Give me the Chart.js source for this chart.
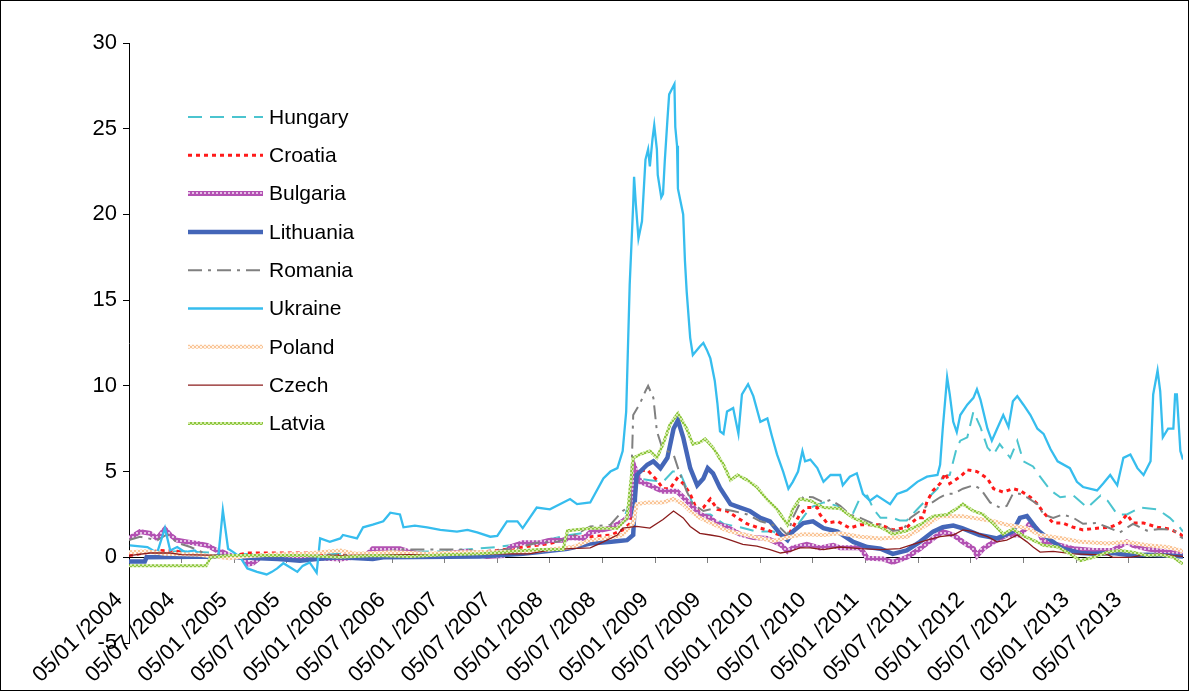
<!DOCTYPE html>
<html>
<head>
<meta charset="utf-8">
<script src="https://cdn.jsdelivr.net/npm/chart.js@4.4.1/dist/chart.umd.min.js"></script>
<style>
  html, body { margin: 0; padding: 0; background: #fff; }
  canvas { display: block; }
</style>
</head>
<body>
<canvas id="spreadChart" width="1189" height="691"></canvas>
<script>
// Datos: [meses desde 01/2004, valor]
const xTickLabels = ['05/01 /2004', '05/07 /2004', '05/01 /2005', '05/07 /2005', '05/01 /2006',
  '05/07 /2006', '05/01 /2007', '05/07 /2007', '05/01 /2008', '05/07 /2008', '05/01 /2009',
  '05/07 /2009', '05/01 /2010', '05/07 /2010', '05/01 /2011', '05/07 /2011', '05/01 /2012',
  '05/07 /2012', '05/01 /2013', '05/07 /2013'];

const yTicks = [-5, 0, 5, 10, 15, 20, 25, 30];

const hungary = [[0,0.3],[6,0.35],[12,0.2],[18,0.15],[24,0.2],[30,0.3],[36,0.35],[42,0.6],[46.5,0.9],
  [50.3,1.3],[54,1.6],[56.3,2.0],[57.9,4.6],[59.4,4.5],[60.9,4.4],[62.0,5.0],[62.8,5.0],[63.6,4.0],
  [64.3,3.1],[65.1,2.5],[66.3,2.5],[67.8,1.95],[69.7,1.75],[71.6,1.5],[73.5,1.5],[74.6,1.15],[75.7,1.5],
  [77.7,2.9],[79.2,3.2],[80.8,3.0],[81.1,2.8],[82.6,2.6],[83.4,3.5],[84.2,3.6],[84.9,2.8],[85.7,2.3],
  [87.1,2.3],[87.9,2.15],[88.7,2.15],[89.9,2.8],[91.0,3.4],[92.2,4.0],[92.8,4.7],[93.6,4.8],[94.4,6.4],
  [94.8,6.8],[95.6,7.0],[96.3,8.5],[97.1,7.6],[97.9,6.4],[98.6,6.0],[99.3,6.6],[99.9,6.2],[100.5,5.8],
  [101.3,6.8],[102.0,5.6],[103.1,5.3],[103.9,4.7],[105.1,3.9],[106.2,3.5],[107.7,3.6],[109.3,2.9],
  [110.8,3.6],[111.6,3.3],[112.7,2.5],[113.8,2.5],[115.3,2.9],[117.3,2.8],[118.7,2.3],[119.9,1.7],[120.2,1.5]];

const croatia = [[0,0.1],[3.5,0.4],[5.5,0.35],[6.5,0.2],[8,0.1],[12,0.1],[13.5,0.25],[21.5,0.25],[22,0.1],
  [30,0.15],[38,0.2],[42,0.4],[44.9,0.6],[48,0.8],[50.6,1.2],[52.6,1.2],[55,1.3],[56.3,1.6],[57.2,2.0],
  [57.5,5.0],[59.1,5.1],[60.2,4.5],[60.9,4.0],[61.7,4.0],[62.5,4.6],[63.2,4.3],[64.0,3.7],[64.8,2.7],
  [65.5,2.9],[66.3,3.4],[67.1,2.8],[68.2,2.7],[69.4,2.3],[70.5,1.95],[71.6,1.75],[72.8,1.6],[73.9,1.35],
  [75.1,1.2],[75.7,1.75],[76.5,2.5],[77.3,2.9],[78.5,2.9],[78.8,2.5],[79.6,2.0],[80.8,2.1],[82.2,1.7],
  [83.4,1.9],[85.7,1.9],[87.1,1.6],[88.7,1.75],[89.9,2.3],[90.5,2.3],[91.0,3.25],[91.7,3.9],[92.5,4.3],
  [93.1,4.9],[93.6,4.3],[94.8,4.7],[95.6,5.1],[96.7,5.0],[97.9,4.6],[98.6,4.0],[99.7,3.8],[100.8,4.0],
  [101.6,3.9],[102.8,3.5],[103.6,3.1],[104.3,2.6],[105.4,2.0],[106.5,2.0],[107.7,1.75],[108.8,1.6],
  [110.4,1.7],[111.9,1.75],[113.0,2.0],[113.8,2.5],[114.5,2.0],[115.7,2.0],[117.3,1.75],[118.7,1.65],
  [119.9,1.35],[120.2,1.2]];

const bulgaria = [[0,1.1],[1.25,1.5],[2.4,1.4],[3.2,1.1],[4.1,1.65],[4.7,1.3],[5.5,1.0],[6.6,0.9],[7.8,0.8],
  [8.9,0.7],[10.0,0.4],[10.7,0.3],[11.5,0.1],[13.0,0.0],[13.5,-0.4],[14.1,-0.35],[15,0.0],[20,0.0],
  [24.1,-0.1],[27,0.1],[27.8,0.5],[30.9,0.5],[32.1,0.3],[34,0.1],[38.6,0.35],[40.8,0.05],[42.7,0.1],
  [43.5,0.6],[44.9,0.85],[46.9,0.85],[48.0,1.0],[49.5,1.0],[50.3,1.15],[51.8,1.1],[52.6,1.45],[54.9,1.7],
  [56.3,2.1],[57.2,2.5],[57.7,5.2],[58.3,4.4],[59.4,4.2],[60.2,4.0],[60.9,3.85],[62.5,3.85],[63.2,3.5],
  [64.0,3.1],[65.1,2.5],[66.3,2.3],[67.1,1.95],[68.2,1.75],[69.7,1.35],[71.2,1.15],[72.8,1.1],[74.3,0.75],
  [75.1,0.35],[75.7,0.55],[77.3,0.75],[78.8,0.55],[80.3,0.7],[81.1,0.55],[83.4,0.55],[84.2,-0.05],
  [86.0,-0.1],[87.1,-0.3],[88.7,0.0],[90.2,0.5],[91.7,1.1],[92.8,1.5],[94.0,1.3],[95.1,0.9],[96.3,0.5],
  [96.7,0.1],[97.4,0.5],[98.6,0.9],[100.1,1.3],[101.6,1.3],[102.8,2.0],[103.6,1.6],[104.3,0.9],[105.4,0.8],
  [107.7,0.5],[110.0,0.4],[112.2,0.4],[113.8,0.9],[114.5,0.7],[116.1,0.5],[118.4,0.3],[120.2,0.25]];

const lithuania = [[0,-0.25],[1.8,-0.25],[2.0,0.0],[10,0.05],[17,-0.1],[19.5,-0.2],[21.4,-0.1],[24,0.0],
  [27.8,-0.1],[29,0.0],[40,0.05],[44.9,0.2],[46.5,0.3],[50,0.5],[52.6,0.8],[55,0.9],[56.8,1.0],[57.5,1.3],
  [57.7,3.45],[57.9,4.8],[59.1,5.4],[59.8,5.6],[60.6,5.2],[61.4,5.8],[62.1,7.5],[62.6,8.0],[63.2,7.0],
  [64.0,5.2],[64.8,4.2],[65.5,4.6],[66.0,5.2],[66.6,4.9],[67.4,4.05],[68.6,3.1],[69.7,2.9],[70.8,2.7],
  [72.0,2.3],[73.1,2.1],[74.3,1.35],[75.1,1.0],[75.7,1.5],[76.9,2.0],[78.0,2.1],[79.2,1.7],[80.8,1.5],
  [82.6,0.9],[84.2,0.6],[85.7,0.5],[87.1,0.2],[88.7,0.4],[90.2,0.9],[91.7,1.5],[92.8,1.75],[94.0,1.85],
  [95.0,1.7],[97,1.3],[99,1.1],[100.8,1.5],[101.6,2.3],[102.4,2.4],[103.6,1.6],[104.3,1.3],[106.5,0.5],
  [108.5,0.25],[110.0,0.2],[112.2,0.25],[114.5,0.1],[116.1,0.15],[118.4,0.1],[120.2,0.05]];

const romania = [[0,1.0],[1.25,1.2],[3.2,1.0],[4.4,1.35],[5.5,0.85],[7.0,0.6],[8.1,0.35],[9.2,0.1],[15,0.05],
  [22,0.1],[28,0.2],[30.9,0.45],[38.6,0.45],[40,0.3],[42,0.4],[44,0.5],[46.5,0.85],[48.8,0.9],[50.3,1.15],
  [52.6,1.8],[54.9,1.9],[56.3,2.7],[57.2,3.0],[57.5,8.3],[58.3,9.0],[58.9,9.7],[59.2,10.0],[59.8,9.3],
  [60.2,7.35],[60.8,6.4],[61.4,6.2],[62.1,6.0],[62.8,4.9],[63.6,3.85],[64.3,3.1],[65.5,2.7],[67.1,2.9],
  [67.8,2.8],[68.9,2.7],[70.5,2.5],[72.0,2.1],[73.1,1.95],[74.3,1.7],[75.1,1.3],[75.7,2.3],[76.9,3.55],
  [78.0,3.5],[79.2,3.2],[80.0,3.35],[81.1,3.0],[82.2,2.5],[83.4,2.3],[84.9,1.95],[86.0,1.9],[87.1,1.55],
  [88.3,1.6],[89.1,2.3],[90.2,2.7],[91.3,3.1],[92.5,3.5],[93.3,3.7],[94.0,3.7],[95.1,4.0],[96.3,4.2],
  [97.1,4.0],[98.2,3.2],[99.3,2.9],[100.1,3.0],[100.8,3.7],[101.6,3.7],[102.4,3.5],[103.6,3.1],[104.3,2.5],
  [105.4,2.3],[106.5,2.5],[107.7,2.3],[108.8,1.95],[110.4,2.0],[111.6,1.75],[113.0,1.45],[114.5,1.95],
  [116.1,1.55],[117.6,1.65],[119.1,1.6],[119.9,1.2],[120.2,1.1]];

const ukraine = [[0.1,0.7],[2.1,0.6],[3.2,0.25],[4.1,1.7],[4.7,0.4],[5.5,0.6],[6.4,0.3],[7.5,0.4],[8.1,0.15],
  [9.2,0.05],[10.2,0.1],[10.7,2.75],[11.3,0.5],[11.9,0.3],[12.7,0.0],[13.5,-0.65],[14.6,-0.85],[15.7,-1.0],
  [16.3,-0.85],[16.9,-0.65],[17.6,-0.35],[18.4,-0.6],[19.2,-0.85],[19.8,-0.5],[20.6,-0.3],[21.4,-0.9],
  [21.8,1.1],[22.9,0.9],[24.1,1.1],[24.4,1.3],[26.0,1.1],[26.7,1.75],[27.8,1.9],[29.0,2.1],[29.8,2.6],
  [30.9,2.5],[31.3,1.75],[32.6,1.85],[34.0,1.75],[35.5,1.6],[37.4,1.5],[38.6,1.6],[39.7,1.45],[41.2,1.2],
  [42.0,1.25],[43.1,2.1],[44.3,2.1],[44.9,1.7],[46.5,2.9],[48.0,2.8],[50.3,3.4],[51.1,3.1],[52.6,3.2],
  [54.1,4.6],[54.9,5.0],[55.7,5.2],[56.3,6.2],[56.7,8.5],[57.1,15.9],[57.5,20.6],[57.6,22.2],[57.8,20.6],
  [58.1,18.6],[58.5,19.6],[58.9,23.2],[59.2,23.8],[59.4,22.8],[59.7,24.4],[59.9,25.2],[60.2,23.8],
  [60.3,22.3],[60.7,21.0],[60.9,21.2],[61.1,23.1],[61.4,25.5],[61.6,27.0],[61.9,27.3],[62.2,27.6],
  [62.3,25.1],[62.5,24.0],[62.6,21.5],[63.2,20.0],[63.4,17.3],[63.6,15.5],[64.0,12.8],[64.3,11.8],
  [65.1,12.3],[65.5,12.5],[65.9,12.1],[66.3,11.6],[66.8,10.3],[67.1,9.0],[67.4,7.35],[67.8,7.2],[68.2,8.5],
  [68.9,8.7],[69.5,7.2],[69.9,9.5],[70.6,10.1],[71.2,9.4],[72.0,7.9],[72.8,8.1],[73.3,7.1],[73.9,6.0],
  [74.6,5.0],[75.2,4.0],[75.7,4.4],[76.3,5.0],[76.8,6.2],[77.1,5.6],[77.7,5.7],[78.5,5.2],[79.2,4.4],
  [80.0,4.8],[81.1,4.8],[81.4,4.2],[82.2,4.7],[83.0,4.9],[83.7,3.7],[84.5,3.3],[85.3,3.6],[86.8,3.1],
  [87.6,3.7],[88.7,3.9],[89.9,4.4],[91.0,4.7],[92.2,4.8],[92.5,5.4],[92.8,7.5],[93.3,10.5],[93.6,9.5],
  [94.0,7.9],[94.4,7.3],[94.8,8.3],[95.6,8.9],[96.3,9.3],[96.7,9.8],[97.1,9.2],[97.9,7.5],[98.4,6.8],
  [99.0,7.5],[99.7,8.3],[100.3,7.6],[100.8,9.1],[101.3,9.4],[102.0,8.9],[102.8,8.3],[103.6,7.5],[104.3,7.2],
  [105.1,6.3],[105.9,5.6],[107.3,5.2],[108.1,4.4],[108.8,4.1],[110.4,3.9],[111.1,4.3],[111.9,4.8],
  [112.7,4.2],[113.4,5.8],[114.2,6.0],[115.0,5.2],[115.7,4.8],[116.5,5.6],[116.8,9.5],[117.3,10.9],
  [117.6,9.7],[117.9,7.0],[118.5,7.5],[119.1,7.5],[119.3,9.5],[119.5,9.5],[119.9,6.2],[120.2,5.7]];

const poland = [[0,0.3],[2,0.35],[4,0.2],[8,0.15],[11.5,-0.05],[13,0.05],[16,0.15],[20,0.2],[24.1,0.4],
  [26,0.2],[30,0.3],[34,0.2],[38,0.3],[42,0.3],[46,0.35],[48.8,0.5],[50.6,0.6],[52.6,1.0],[54.9,1.15],
  [56.3,1.3],[57.5,2.0],[57.9,3.1],[59.1,3.2],[60.9,3.2],[62.1,3.4],[63.2,3.1],[64.0,2.7],[65.1,2.3],
  [66.6,1.95],[68.2,1.55],[70.0,1.35],[71.6,1.15],[73.5,0.95],[75.1,1.15],[76.9,1.35],[79.2,1.3],
  [81.1,1.4],[83.4,1.2],[85.7,1.1],[88.7,1.2],[91.0,1.9],[92.5,2.4],[95.0,2.4],[96.3,2.3],[98.6,2.1],
  [100.1,1.9],[102.4,1.7],[103.9,1.3],[106.5,1.1],[108.5,0.9],[111.6,0.8],[113.8,0.9],[116.1,0.7],
  [118.4,0.6],[119.9,0.4],[120.2,0.3]];

const czech = [[0,0.1],[2.4,0.25],[4.7,0.25],[6,0.15],[12,0.1],[16,0.05],[24,0.1],[30,0.15],[36,0.15],
  [42,0.2],[45.6,0.2],[48.3,0.45],[50.3,0.5],[52.6,0.55],[54.1,0.9],[55.7,1.3],[56.3,1.7],[57.9,1.8],
  [59.4,1.7],[60.9,2.2],[62.1,2.7],[63.2,2.3],[64.0,1.8],[65.1,1.4],[66.3,1.3],[67.4,1.2],[68.6,1.0],
  [70.0,0.75],[71.6,0.65],[73.1,0.45],[74.3,0.25],[75.4,0.35],[76.5,0.55],[77.7,0.55],[79.2,0.45],
  [81.1,0.6],[83.4,0.5],[85.7,0.45],[87.9,0.5],[89.4,0.75],[91.0,1.0],[92.5,1.2],[94.0,1.3],[95.1,1.6],
  [96.3,1.5],[97.9,1.2],[99.0,0.9],[100.1,1.0],[101.3,1.3],[102.4,0.9],[103.1,0.6],[103.9,0.3],[105.4,0.35],
  [107.7,0.2],[110.0,0.15],[111.6,0.15],[112.2,0.0],[114.2,0.0],[115.3,0.1],[117.6,0.2],[119.1,0.1],[120.2,0.05]];

const latvia = [[0,-0.5],[8.8,-0.5],[9.3,0.0],[11.5,0.1],[20,0.1],[24,0.0],[28,0.1],[32,0.05],[36,0.15],
  [40,0.2],[42.7,0.3],[44.9,0.4],[47,0.45],[49.5,0.45],[50.0,1.55],[52.6,1.7],[54.1,1.7],[55.7,1.7],
  [56.8,2.3],[57.5,5.8],[58.3,6.0],[59.4,6.2],[60.2,5.8],[60.9,6.6],[61.7,7.75],[62.6,8.4],[63.6,7.5],
  [64.3,6.6],[65.1,6.7],[65.7,6.9],[66.6,6.4],[67.8,5.4],[68.6,4.5],[69.4,4.8],[70.5,4.5],[71.6,4.1],
  [72.8,3.35],[73.9,2.8],[75.1,1.9],[75.7,2.8],[76.5,3.4],[77.7,3.3],[79.2,2.9],[81.1,2.85],[82.6,2.3],
  [84.2,1.95],[85.7,1.75],[87.1,1.35],[88.7,1.55],[90.2,1.9],[91.7,2.4],[93.3,2.5],[94.4,2.85],[95.1,3.1],
  [96.3,2.7],[97.4,2.5],[98.6,1.95],[99.7,1.35],[100.8,1.65],[102.0,1.25],[103.1,1.0],[104.3,0.7],
  [105.9,0.6],[107.3,0.2],[108.5,-0.2],[110.0,0.0],[111.6,0.3],[113.0,0.4],[114.5,0.3],[116.1,0.1],
  [117.6,0.15],[119.1,0.0],[120.2,-0.4]];

// Patrón de puntos para las líneas gruesas
function dotPattern(base, dot, checker) {
  const c = document.createElement('canvas');
  c.width = 4; c.height = 4;
  const g = c.getContext('2d');
  g.fillStyle = base;
  g.fillRect(0, 0, 4, 4);
  g.fillStyle = dot;
  g.fillRect(0, 0, 2, 2);
  if (checker) g.fillRect(2, 2, 2, 2);
  return g.createPattern(c, 'repeat');
}

function toPoints(arr) {
  return arr.map(p => ({ x: p[0], y: p[1] }));
}

const series = [
  { label: 'Hungary', data: hungary, color: '#4bc4cf', width: 2, dash: [14, 8] },
  { label: 'Croatia', data: croatia, color: '#ff1a1a', width: 3, dash: [4, 4] },
  { label: 'Bulgaria', data: bulgaria, color: dotPattern('#b352b3', '#e6c2e6', false), width: 5, dash: [] },
  { label: 'Lithuania', data: lithuania, color: '#4466b8', width: 4.5, dash: [] },
  { label: 'Romania', data: romania, color: '#808080', width: 2, dash: [14, 6, 3, 6] },
  { label: 'Ukraine', data: ukraine, color: '#36bdee', width: 2.3, dash: [] },
  { label: 'Poland', data: poland, color: dotPattern('#fff4ea', '#f9c597', true), width: 4, dash: [] },
  { label: 'Czech', data: czech, color: '#8b1d1d', width: 1.3, dash: [] },
  { label: 'Latvia', data: latvia, color: dotPattern('#d4eaa8', '#8cc63f', true), width: 3, dash: [] }
];

const legendPlugin = {
  id: 'insideLegend',
  afterDraw(chart) {
    const ctx = chart.ctx;
    ctx.save();
    ctx.font = '21px "Liberation Sans", Arial, sans-serif';
    ctx.textBaseline = 'middle';
    ctx.fillStyle = '#000';
    chart.data.datasets.forEach((ds, i) => {
      const y = 117 + 38.3 * i;
      ctx.strokeStyle = ds.borderColor;
      ctx.lineWidth = ds.borderWidth;
      ctx.setLineDash(ds.borderDash || []);
      ctx.beginPath();
      ctx.moveTo(188, y);
      ctx.lineTo(263, y);
      ctx.stroke();
      ctx.setLineDash([]);
      ctx.fillText(ds.label, 269, y + 1);
    });
    ctx.restore();
  }
};

const framePlugin = {
  id: 'frame',
  afterDraw(chart) {
    const ctx = chart.ctx;
    ctx.save();
    ctx.strokeStyle = '#000';
    ctx.lineWidth = 1;
    ctx.strokeRect(0.5, 0.5, chart.width - 1, chart.height - 1);
    ctx.restore();
  }
};

function initChart() {
  if (typeof Chart === 'undefined') {
    console.error('Chart.js no está cargado');
    return;
  }
  Chart.defaults.font.family = "'Liberation Sans', Arial, sans-serif";
  Chart.defaults.color = '#000';

  new Chart(document.getElementById('spreadChart'), {
    type: 'line',
    data: {
      datasets: series.map((s, i) => ({
        label: s.label,
        data: toPoints(s.data),
        borderColor: s.color,
        borderWidth: s.width,
        borderDash: s.dash,
        pointRadius: 0,
        tension: 0,
        fill: false,
        order: series.length - i
      }))
    },
    options: {
      responsive: false,
      devicePixelRatio: 1,
      animation: false,
      layout: { padding: { top: 43, right: 6, bottom: 48, left: 0 } },
      plugins: {
        legend: { display: false },
        tooltip: { enabled: false }
      },
      scales: {
        x: {
          type: 'linear',
          position: { y: 0 },
          min: 0,
          max: 120.2,
          afterFit: scale => { scale.paddingLeft = 0; scale.paddingRight = 0; },
          border: { display: true, color: '#000', width: 1 },
          grid: {
            drawOnChartArea: false,
            drawTicks: true,
            tickLength: 5,
            color: ctx => (ctx.tick && ctx.tick.value > 114 ? 'rgba(0,0,0,0)' : '#808080')
          },
          ticks: {
            stepSize: 6,
            autoSkip: false,
            includeBounds: false,
            minRotation: 45,
            maxRotation: 45,
            padding: 25,
            labelOffset: -10,
            font: { size: 22 },
            callback: value => {
              const i = value / 6;
              return Number.isInteger(i) && i < xTickLabels.length ? xTickLabels[i] : '';
            }
          }
        },
        y: {
          min: yTicks[0],
          max: yTicks[yTicks.length - 1],
          afterFit: scale => { scale.width = 129; scale.paddingTop = 0; scale.paddingBottom = 0; },
          afterBuildTicks: scale => { scale.ticks = yTicks.map(v => ({ value: v })); },
          border: { display: true, color: '#000', width: 1 },
          grid: { drawOnChartArea: false, drawTicks: true, tickLength: 6, color: '#000' },
          ticks: { padding: 6, font: { size: 22 } }
        }
      }
    },
    plugins: [legendPlugin, framePlugin]
  });
}

if (document.readyState === 'loading') {
  document.addEventListener('DOMContentLoaded', initChart);
} else {
  initChart();
}
</script>
</body>
</html>
